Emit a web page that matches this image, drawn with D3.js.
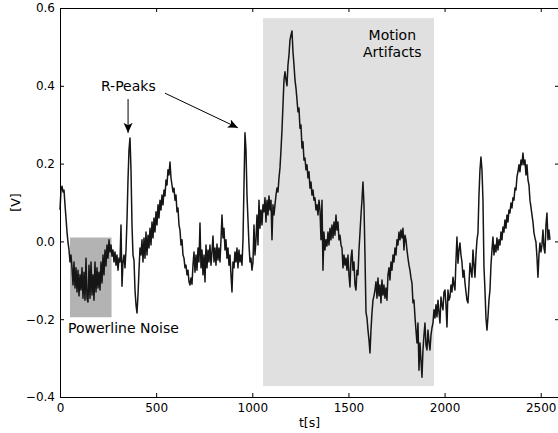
<!DOCTYPE html>
<html>
<head>
<meta charset="utf-8">
<script src="https://cdn.jsdelivr.net/npm/d3@7"></script>
<style>
  body { margin: 0; background: #fff; }
  svg text { font-family: "DejaVu Sans", sans-serif; fill: #000; }
</style>
</head>
<body>
<svg id="chart" width="558" height="433"></svg>
<script>
// ECG trace, one sample every 5.2 t-units, values in mV
const sampleStep = 5.2;
const signalMilliVolts = [
  81,132,142,127,132,94,60,24,-2,-22,-53,-35,-68,
  -112,-53,-120,-68,-130,-74,-140,-86,-125,-68,-146,-79,-151,-43,-146,-156,-61,-146,-53,-138,-86,-151,-53,-130,-68,-120,-79,-125,-53,-107,-35,-86,-22,-63,-9,-43,4,-27,
  -9,-38,-22,-53,-27,-61,-35,-74,-43,-53,42,-115,-53,-35,-68,-22,55,158,235,266,184,42,-35,-48,-125,-163,-184,-138,-74,-17,-35,4,
  -53,9,-43,24,-35,16,-17,34,-9,50,9,60,24,76,42,94,60,106,81,119,94,132,117,158,145,184,171,204,163,145,127,137,106,119,76,86,42,29,-9,4,-35,-43,-68,-61,-86,-74,-104,-112,-94,-110,
  -61,-27,-79,-35,-74,-17,-53,47,-68,-22,-86,-35,-104,-9,-68,-22,-53,-9,-61,-27,14,-53,-17,-61,-7,-48,-17,-53,4,68,9,34,-22,4,-43,-17,-61,-35,-86,-130,-53,-68,
  -27,-53,-17,-68,-22,-53,-35,-61,4,145,279,235,119,55,-9,-53,-43,-74,-53,42,-35,4,68,-9,106,34,81,42,94,
  76,112,50,106,68,117,81,106,4,94,68,94,119,137,127,163,189,235,286,351,415,436,415,400,454,479,518,530,541,487,454,415,394,364,333,343,291,299,240,256,209,214,184,197,163,179,137,153,119,132,106,112,81,94,68,
  106,81,4,106,-74,24,-22,4,-12,24,-9,34,4,42,9,50,16,68,29,50,4,16,-9,-17,-68,-35,-61,-43,-74,-35,-86,-117,-43,-22,-74,-53,-112,-125,-74,-86,-22,22,68,106,153,94,-35,-182,-197,-228,-253,-287,-228,-184,-151,-140,
  -125,-104,-146,-94,-140,-112,-158,-99,-138,-112,-146,-120,-151,-86,-68,-99,-53,-74,-35,-53,-17,-35,4,-9,24,4,
  29,9,34,-22,16,4,-22,-43,-61,-74,-94,-107,-158,-151,-194,-228,-261,-210,-331,-261,-305,-349,-279,-241,-210,-267,-279,-228,-259,-279,-241,-222,-210,-176,-197,
  -163,-194,-151,-182,-210,-143,-163,-176,-130,-125,-163,-220,-125,-151,-143,-112,-130,-92,-112,-125,-48,11,-56,-22,-4,-35,-53,-92,-74,-107,-130,-151,-158,-112,-56,-74,-92,-22,-61,-92,-35,4,22,119,184,217,184,106,-66,-125,-197,-228,-194,-151,-125,
  -61,-22,11,-35,-9,-27,9,-22,4,-9,24,4,37,24,55,34,68,50,81,73,99,86,112,106,137,132,166,179,197,179,209,197,227,197,209,171,197,158,145,106,88,68,50,22,9,-2,-40,-92,-35,-4,-27,-9,29,-17,-30,42,73,4,29,4
];

const xTicks = [0, 500, 1000, 1500, 2000, 2500];
const yTicks = [-0.4, -0.2, 0.0, 0.2, 0.4, 0.6];
const xDomain = [0, 2595];
const yDomain = [-0.4, 0.6];

// shaded regions: [t0, t1] x [v0, v1]
const regionNames = ['Powerline Noise', 'Motion Artifacts'];
const regionT = [[52, 268], [1056, 1945]];
const regionV = [[-0.195, 0.01], [-0.372, 0.574]];

// R-peak annotation: arrow tails and tips, in data units
const peakArrowFrom = [[354, 0.366], [546, 0.381]];
const peakArrowTo = [[354, 0.279], [925, 0.292]];

const margin = {top: 8, right: -1, bottom: 36, left: 60};
const width = 558, height = 433;

const svg = d3.select('#chart');
const x = d3.scaleLinear().domain(xDomain).range([margin.left, width - margin.right]);
const y = d3.scaleLinear().domain(yDomain).range([height - margin.bottom, margin.top]);

const regionFill = ['#b3b3b3', '#e0e0e0'];

svg.append('defs').append('marker')
  .attr('id', 'head')
  .attr('viewBox', '-10 -5 10 10')
  .attr('refX', 0).attr('refY', 0)
  .attr('markerWidth', 10).attr('markerHeight', 10)
  .attr('markerUnits', 'userSpaceOnUse')
  .attr('orient', 'auto')
  .append('path')
  .attr('d', 'M0,0L-10,-4.5L-7.5,0L-10,4.5Z')
  .attr('fill', '#000');

// regions
svg.selectAll('rect.region').data(regionNames).join('rect')
  .attr('class', 'region')
  .attr('x', (d, i) => x(regionT[i][0]))
  .attr('width', (d, i) => x(regionT[i][1]) - x(regionT[i][0]))
  .attr('y', (d, i) => y(regionV[i][1]))
  .attr('height', (d, i) => y(regionV[i][0]) - y(regionV[i][1]))
  .attr('fill', (d, i) => regionFill[i]);

// signal
const line = d3.line()
  .x((d, i) => x(i * sampleStep))
  .y((d) => y(d / 1000));

svg.append('path')
  .datum(signalMilliVolts)
  .attr('d', line)
  .attr('fill', 'none')
  .attr('stroke', '#161616')
  .attr('stroke-width', 1.5)
  .attr('stroke-linejoin', 'round');

// axes, ticks inward on all four sides
const fmt = d3.format('.1f');
const tick = 4;
svg.append('g')
  .attr('transform', `translate(0,${height - margin.bottom})`)
  .call(d3.axisBottom(x).tickValues(xTicks).tickSizeInner(-tick).tickSizeOuter(0).tickPadding(6).tickFormat(d3.format('d')));
svg.append('g')
  .attr('transform', `translate(0,${margin.top})`)
  .call(d3.axisTop(x).tickValues(xTicks).tickSizeInner(-tick).tickSizeOuter(0).tickFormat(''));
svg.append('g')
  .attr('transform', `translate(${margin.left},0)`)
  .call(d3.axisLeft(y).tickValues(yTicks).tickSizeInner(-tick).tickSizeOuter(0).tickPadding(5).tickFormat(fmt));
svg.append('g')
  .attr('transform', `translate(${width - margin.right},0)`)
  .call(d3.axisRight(y).tickValues(yTicks).tickSizeInner(-tick).tickSizeOuter(0).tickFormat(''));

svg.selectAll('.tick text').attr('font-size', 12).attr('fill', '#000');
svg.selectAll('.domain, .tick line').attr('stroke', '#000');

// axis labels
svg.append('text')
  .attr('x', (margin.left + width - margin.right) / 2)
  .attr('y', 427)
  .attr('text-anchor', 'middle')
  .attr('font-size', 12.5)
  .text('t[s]');
svg.append('text')
  .attr('transform', `translate(20,${(margin.top + height - margin.bottom) / 2}) rotate(-90)`)
  .attr('text-anchor', 'middle')
  .attr('font-size', 12.5)
  .text('[V]');

// annotations
svg.append('text')
  .attr('x', x(regionT[0][0]) - 2)
  .attr('y', y(regionV[0][0]) + 16)
  .attr('font-size', 14)
  .text(regionNames[0]);

const motion = svg.append('text')
  .attr('text-anchor', 'middle')
  .attr('font-size', 14);
motion.append('tspan').attr('x', x(1728)).attr('y', 39.5).text('Motion');
motion.append('tspan').attr('x', x(1728)).attr('y', 57).text('Artifacts');

svg.append('text')
  .attr('x', x(213))
  .attr('y', y(0.387))
  .attr('font-size', 14)
  .text('R-Peaks');

svg.selectAll('line.arrow').data(peakArrowFrom).join('line')
  .attr('class', 'arrow')
  .attr('x1', (d) => x(d[0]))
  .attr('y1', (d) => y(d[1]))
  .attr('x2', (d, i) => x(peakArrowTo[i][0]))
  .attr('y2', (d, i) => y(peakArrowTo[i][1]))
  .attr('stroke', '#000')
  .attr('stroke-width', 1)
  .attr('marker-end', 'url(#head)');
</script>
</body>
</html>
